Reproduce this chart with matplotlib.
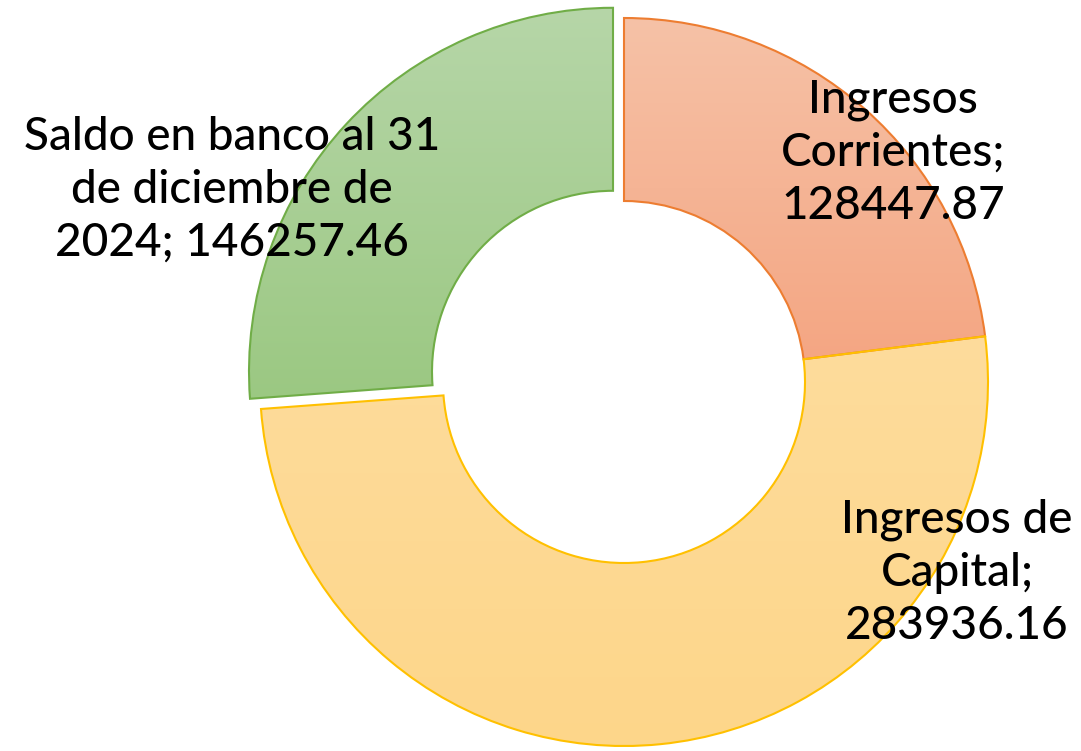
import numpy as np
import matplotlib.pyplot as plt
from matplotlib.colors import to_rgb

plt.rcParams['font.family'] = ['Lato', 'DejaVu Sans']

categories = ["Ingresos Corrientes", "Ingresos de Capital", "Saldo en banco al 31 de diciembre de 2024"]
values = [128447.87, 283936.16, 146257.46]
label_text = ["Ingresos\nCorrientes;\n128447.87",
              "Ingresos de\nCapital;\n283936.16",
              "Saldo en banco al 31\nde diciembre de\n2024; 146257.46"]
edge_colors = ["#ED7D31", "#FFC000", "#70AD47"]
grad_top = ["#F6C2A7", "#FEDC9C", "#B6D6A8"]
grad_bot = ["#F4A683", "#FDD68A", "#9BC882"]

W, H = 1081, 751
fig = plt.figure(figsize=(W / 100, H / 100), dpi=100)
ax = fig.add_axes([0, 0, 1, 1])

# axes in pixel units, y up
cx, cy = 624, H - 382
radius = 364
ring = 183

wedges, _ = ax.pie(values, center=(cx, cy), radius=radius, startangle=90,
                   counterclock=False, explode=[0, 0, 15],
                   wedgeprops=dict(width=ring, linewidth=1.5))

# vertical gradient fill clipped to each wedge
for w, ec, top, bot in zip(wedges, edge_colors, grad_top, grad_bot):
    w.set_facecolor("none")
    w.set_edgecolor(ec)
    w.set_zorder(3)
    ext = w.get_path().get_extents()
    t = np.linspace(0, 1, 256)[:, None]
    c0, c1 = np.array(to_rgb(top)), np.array(to_rgb(bot))
    img = (1 - t)[:, :, None] * c0 + t[:, :, None] * c1
    img = np.repeat(img, 2, axis=1)
    im = ax.imshow(img, extent=[ext.x0, ext.x1, ext.y0, ext.y1], origin="upper",
                   interpolation="bilinear", aspect="auto", zorder=2)
    im.set_clip_path(w.get_path(), ax.transData)

# data labels
label_pos = [(893, 153), (957, 573), (232, 190)]
for txt, (x, y) in zip(label_text, label_pos):
    ax.text(x, H - y, txt, ha="center", va="center", fontsize=33,
            fontweight="medium", linespacing=1.32, color="black", zorder=5)

ax.set_xlim(0, W)
ax.set_ylim(0, H)
ax.set_aspect("auto")
ax.axis("off")

fig.savefig("out.png", dpi=100)
